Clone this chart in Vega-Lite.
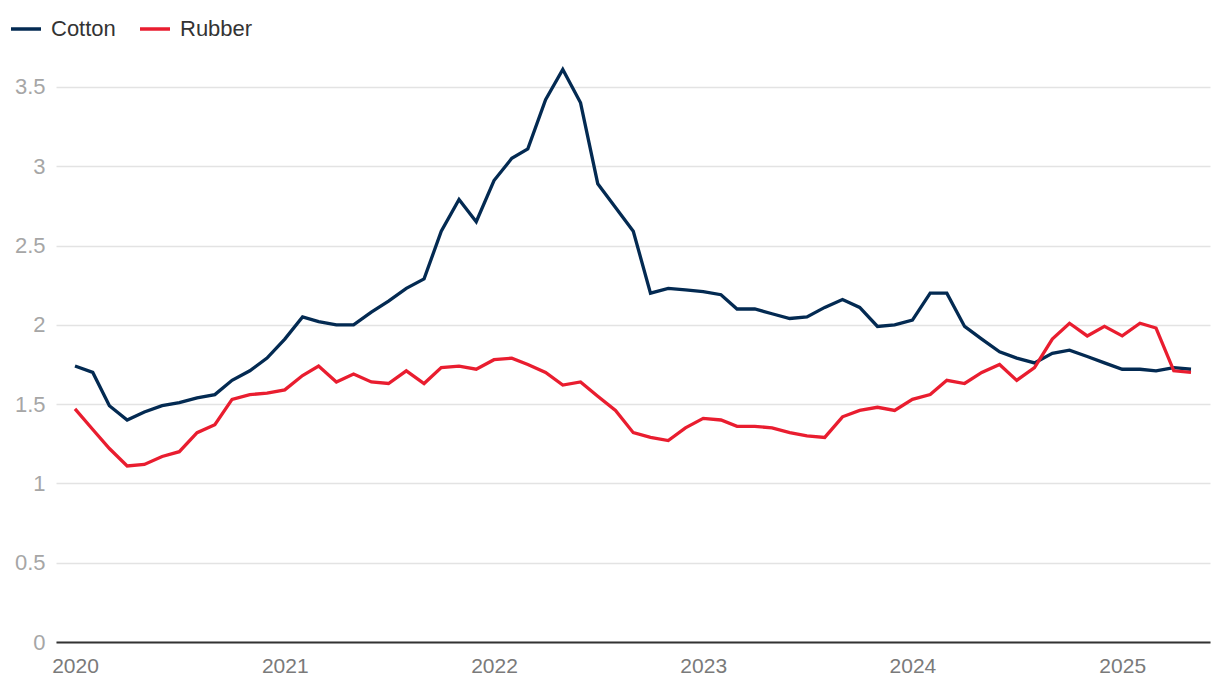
{
  "$schema": "https://vega.github.io/schema/vega-lite/v6.json",
  "width": 1154,
  "height": 582,
  "autosize": {"type": "none"},
  "padding": {"left": 56, "top": 60, "right": 10, "bottom": 46},
  "background": "white",
  "config": {
    "font": "Liberation Sans",
    "view": {"stroke": null}
  },
  "datasets": {
    "prices": [
      {"date":"2020-01-01","series":"Cotton","value":1.74},{"date":"2020-02-01","series":"Cotton","value":1.70},{"date":"2020-03-01","series":"Cotton","value":1.49},{"date":"2020-04-01","series":"Cotton","value":1.40},{"date":"2020-05-01","series":"Cotton","value":1.45},{"date":"2020-06-01","series":"Cotton","value":1.49},{"date":"2020-07-01","series":"Cotton","value":1.51},{"date":"2020-08-01","series":"Cotton","value":1.54},{"date":"2020-09-01","series":"Cotton","value":1.56},{"date":"2020-10-01","series":"Cotton","value":1.65},{"date":"2020-11-01","series":"Cotton","value":1.71},{"date":"2020-12-01","series":"Cotton","value":1.79},
      {"date":"2021-01-01","series":"Cotton","value":1.91},{"date":"2021-02-01","series":"Cotton","value":2.05},{"date":"2021-03-01","series":"Cotton","value":2.02},{"date":"2021-04-01","series":"Cotton","value":2.00},{"date":"2021-05-01","series":"Cotton","value":2.00},{"date":"2021-06-01","series":"Cotton","value":2.08},{"date":"2021-07-01","series":"Cotton","value":2.15},{"date":"2021-08-01","series":"Cotton","value":2.23},{"date":"2021-09-01","series":"Cotton","value":2.29},{"date":"2021-10-01","series":"Cotton","value":2.59},{"date":"2021-11-01","series":"Cotton","value":2.79},{"date":"2021-12-01","series":"Cotton","value":2.65},
      {"date":"2022-01-01","series":"Cotton","value":2.91},{"date":"2022-02-01","series":"Cotton","value":3.05},{"date":"2022-03-01","series":"Cotton","value":3.11},{"date":"2022-04-01","series":"Cotton","value":3.42},{"date":"2022-05-01","series":"Cotton","value":3.61},{"date":"2022-06-01","series":"Cotton","value":3.40},{"date":"2022-07-01","series":"Cotton","value":2.89},{"date":"2022-08-01","series":"Cotton","value":2.74},{"date":"2022-09-01","series":"Cotton","value":2.59},{"date":"2022-10-01","series":"Cotton","value":2.20},{"date":"2022-11-01","series":"Cotton","value":2.23},{"date":"2022-12-01","series":"Cotton","value":2.22},
      {"date":"2023-01-01","series":"Cotton","value":2.21},{"date":"2023-02-01","series":"Cotton","value":2.19},{"date":"2023-03-01","series":"Cotton","value":2.10},{"date":"2023-04-01","series":"Cotton","value":2.10},{"date":"2023-05-01","series":"Cotton","value":2.07},{"date":"2023-06-01","series":"Cotton","value":2.04},{"date":"2023-07-01","series":"Cotton","value":2.05},{"date":"2023-08-01","series":"Cotton","value":2.11},{"date":"2023-09-01","series":"Cotton","value":2.16},{"date":"2023-10-01","series":"Cotton","value":2.11},{"date":"2023-11-01","series":"Cotton","value":1.99},{"date":"2023-12-01","series":"Cotton","value":2.00},
      {"date":"2024-01-01","series":"Cotton","value":2.03},{"date":"2024-02-01","series":"Cotton","value":2.20},{"date":"2024-03-01","series":"Cotton","value":2.20},{"date":"2024-04-01","series":"Cotton","value":1.99},{"date":"2024-05-01","series":"Cotton","value":1.91},{"date":"2024-06-01","series":"Cotton","value":1.83},{"date":"2024-07-01","series":"Cotton","value":1.79},{"date":"2024-08-01","series":"Cotton","value":1.76},{"date":"2024-09-01","series":"Cotton","value":1.82},{"date":"2024-10-01","series":"Cotton","value":1.84},{"date":"2024-11-01","series":"Cotton","value":1.80},{"date":"2024-12-01","series":"Cotton","value":1.76},
      {"date":"2025-01-01","series":"Cotton","value":1.72},{"date":"2025-02-01","series":"Cotton","value":1.72},{"date":"2025-03-01","series":"Cotton","value":1.71},{"date":"2025-04-01","series":"Cotton","value":1.73},{"date":"2025-05-01","series":"Cotton","value":1.72},
      {"date":"2020-01-01","series":"Rubber","value":1.47},{"date":"2020-02-01","series":"Rubber","value":1.34},{"date":"2020-03-01","series":"Rubber","value":1.22},{"date":"2020-04-01","series":"Rubber","value":1.11},{"date":"2020-05-01","series":"Rubber","value":1.12},{"date":"2020-06-01","series":"Rubber","value":1.17},{"date":"2020-07-01","series":"Rubber","value":1.20},{"date":"2020-08-01","series":"Rubber","value":1.32},{"date":"2020-09-01","series":"Rubber","value":1.37},{"date":"2020-10-01","series":"Rubber","value":1.53},{"date":"2020-11-01","series":"Rubber","value":1.56},{"date":"2020-12-01","series":"Rubber","value":1.57},
      {"date":"2021-01-01","series":"Rubber","value":1.59},{"date":"2021-02-01","series":"Rubber","value":1.68},{"date":"2021-03-01","series":"Rubber","value":1.74},{"date":"2021-04-01","series":"Rubber","value":1.64},{"date":"2021-05-01","series":"Rubber","value":1.69},{"date":"2021-06-01","series":"Rubber","value":1.64},{"date":"2021-07-01","series":"Rubber","value":1.63},{"date":"2021-08-01","series":"Rubber","value":1.71},{"date":"2021-09-01","series":"Rubber","value":1.63},{"date":"2021-10-01","series":"Rubber","value":1.73},{"date":"2021-11-01","series":"Rubber","value":1.74},{"date":"2021-12-01","series":"Rubber","value":1.72},
      {"date":"2022-01-01","series":"Rubber","value":1.78},{"date":"2022-02-01","series":"Rubber","value":1.79},{"date":"2022-03-01","series":"Rubber","value":1.75},{"date":"2022-04-01","series":"Rubber","value":1.70},{"date":"2022-05-01","series":"Rubber","value":1.62},{"date":"2022-06-01","series":"Rubber","value":1.64},{"date":"2022-07-01","series":"Rubber","value":1.55},{"date":"2022-08-01","series":"Rubber","value":1.46},{"date":"2022-09-01","series":"Rubber","value":1.32},{"date":"2022-10-01","series":"Rubber","value":1.29},{"date":"2022-11-01","series":"Rubber","value":1.27},{"date":"2022-12-01","series":"Rubber","value":1.35},
      {"date":"2023-01-01","series":"Rubber","value":1.41},{"date":"2023-02-01","series":"Rubber","value":1.40},{"date":"2023-03-01","series":"Rubber","value":1.36},{"date":"2023-04-01","series":"Rubber","value":1.36},{"date":"2023-05-01","series":"Rubber","value":1.35},{"date":"2023-06-01","series":"Rubber","value":1.32},{"date":"2023-07-01","series":"Rubber","value":1.30},{"date":"2023-08-01","series":"Rubber","value":1.29},{"date":"2023-09-01","series":"Rubber","value":1.42},{"date":"2023-10-01","series":"Rubber","value":1.46},{"date":"2023-11-01","series":"Rubber","value":1.48},{"date":"2023-12-01","series":"Rubber","value":1.46},
      {"date":"2024-01-01","series":"Rubber","value":1.53},{"date":"2024-02-01","series":"Rubber","value":1.56},{"date":"2024-03-01","series":"Rubber","value":1.65},{"date":"2024-04-01","series":"Rubber","value":1.63},{"date":"2024-05-01","series":"Rubber","value":1.70},{"date":"2024-06-01","series":"Rubber","value":1.75},{"date":"2024-07-01","series":"Rubber","value":1.65},{"date":"2024-08-01","series":"Rubber","value":1.73},{"date":"2024-09-01","series":"Rubber","value":1.91},{"date":"2024-10-01","series":"Rubber","value":2.01},{"date":"2024-11-01","series":"Rubber","value":1.93},{"date":"2024-12-01","series":"Rubber","value":1.99},
      {"date":"2025-01-01","series":"Rubber","value":1.93},{"date":"2025-02-01","series":"Rubber","value":2.01},{"date":"2025-03-01","series":"Rubber","value":1.98},{"date":"2025-04-01","series":"Rubber","value":1.71},{"date":"2025-05-01","series":"Rubber","value":1.70}
    ]
  },
  "data": {"name": "prices"},
  "mark": {"type": "line", "strokeWidth": 3.3, "strokeJoin": "miter"},
  "encoding": {
    "x": {
      "field": "date",
      "type": "temporal",
      "scale": {"padding": 19, "nice": false},
      "axis": {
        "title": null,
        "format": "%Y",
        "tickCount": {"interval": "year", "step": 1},
        "grid": false,
        "ticks": false,
        "domain": true,
        "domainColor": "#333333",
        "domainWidth": 2,
        "labelColor": "#7a7a7a",
        "labelFontSize": 21,
        "labelPadding": 13,
        "labelFlush": false
      }
    },
    "y": {
      "field": "value",
      "type": "quantitative",
      "scale": {"domain": [0, 3.67], "nice": false, "zero": true},
      "axis": {
        "title": null,
        "values": [0, 0.5, 1, 1.5, 2, 2.5, 3, 3.5],
        "format": "~g",
        "domain": false,
        "ticks": false,
        "grid": true,
        "gridColor": "#e3e3e3",
        "gridWidth": 1.5,
        "labelColor": "#a6a6a6",
        "labelFontSize": 22,
        "labelPadding": 11
      }
    },
    "color": {
      "field": "series",
      "type": "nominal",
      "scale": {"domain": ["Cotton", "Rubber"], "range": ["#032a52", "#e91d2f"]},
      "legend": {
        "title": null,
        "orient": "none",
        "legendX": -47,
        "legendY": -48,
        "direction": "horizontal",
        "symbolType": "stroke",
        "symbolSize": 900,
        "symbolStrokeWidth": 3.5,
        "labelFontSize": 22,
        "labelColor": "#333333",
        "labelOffset": 8,
        "columnPadding": 17,
        "labelLimit": 200
      }
    }
  }
}
